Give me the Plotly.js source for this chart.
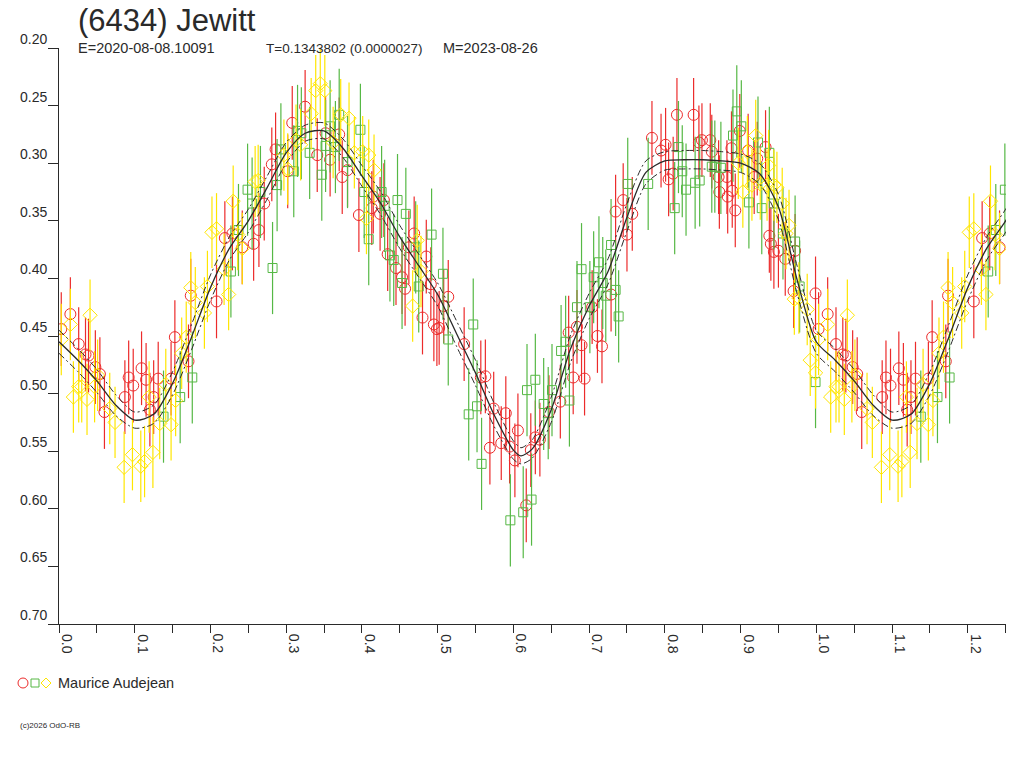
<!DOCTYPE html>
<html>
<head>
<meta charset="utf-8">
<script src="https://cdn.plot.ly/plotly-3.0.1.min.js"></script>
<style>
  html, body { margin: 0; padding: 0; background: #fff; }
  #chart { width: 1024px; height: 768px; }
</style>
</head>
<body>
<div id="chart"></div>
<script>
// Lightcurve of (6434) Jewitt, phase-folded, one observer split into three sessions

const titleText = '(6434) Jewitt';
const epochText = 'E=2020-08-08.10091';
const periodText = 'T=0.1343802 (0.0000027)';
const modelText = 'M=2023-08-26';
const observerName = 'Maurice Audejean';
const copyrightText = '(c)2026 OdO-RB';

const xTickVals = [0.0, 0.1, 0.2, 0.3, 0.4, 0.5, 0.6, 0.7, 0.8, 0.9, 1.0, 1.1, 1.2];
const xTickLabels = ['0.0', '0.1', '0.2', '0.3', '0.4', '0.5', '0.6', '0.7', '0.8', '0.9', '1.0', '1.1', '1.2'];
const yTickVals = [0.20, 0.25, 0.30, 0.35, 0.40, 0.45, 0.50, 0.55, 0.60, 0.65, 0.70];
const yTickLabels = ['0.20', '0.25', '0.30', '0.35', '0.40', '0.45', '0.50', '0.55', '0.60', '0.65', '0.70'];

// session 1 (red circles)
const redPhase = [
    0.003, 0.015, 0.026, 0.035, 0.039, 0.048, 0.054, 0.060, 0.087, 0.092,
    0.098, 0.109, 0.115, 0.120, 0.125, 0.131, 0.148, 0.153, 0.171, 0.174,
    0.208, 0.219, 0.229, 0.242, 0.257, 0.264, 0.271, 0.281, 0.286, 0.302,
    0.308, 0.325, 0.341, 0.352, 0.358, 0.370, 0.374, 0.381, 0.396, 0.413,
    0.415, 0.424, 0.429, 0.434, 0.445, 0.453, 0.457, 0.462, 0.469, 0.480,
    0.485, 0.491, 0.495, 0.499, 0.502, 0.508, 0.514, 0.535, 0.557, 0.563,
    0.569, 0.574, 0.584, 0.590, 0.595, 0.602, 0.606, 0.617, 0.623, 0.629,
    0.635, 0.647, 0.662, 0.673, 0.679, 0.684, 0.690, 0.694, 0.704, 0.711,
    0.717, 0.729, 0.735, 0.745, 0.750, 0.757, 0.783, 0.795, 0.801, 0.805,
    0.811, 0.816, 0.838, 0.845, 0.849, 0.860, 0.862, 0.871, 0.872, 0.882,
    0.883, 0.888, 0.889, 0.893, 0.899, 0.910, 0.918, 0.922, 0.933, 0.938,
    0.940, 0.944, 0.950, 0.959, 0.970, 0.972, 0.999
];
const redMag = [
    0.444, 0.431, 0.457, 0.466, 0.467, 0.477, 0.483, 0.516, 0.503, 0.486,
    0.493, 0.478, 0.488, 0.514, 0.503, 0.487, 0.487, 0.451, 0.472, 0.415,
    0.420, 0.365, 0.361, 0.373, 0.370, 0.358, 0.335, 0.301, 0.288, 0.307,
    0.265, 0.251, 0.293, 0.274, 0.297, 0.275, 0.312, 0.306, 0.345, 0.339,
    0.329, 0.344, 0.332, 0.379, 0.391, 0.399, 0.409, 0.373, 0.361, 0.434,
    0.381, 0.405, 0.440, 0.444, 0.443, 0.424, 0.416, 0.457, 0.486, 0.485,
    0.547, 0.513, 0.543, 0.517, 0.546, 0.558, 0.532, 0.597, 0.549, 0.538,
    0.540, 0.516, 0.507, 0.447, 0.486, 0.442, 0.458, 0.487, 0.425, 0.450,
    0.459, 0.414, 0.342, 0.332, 0.362, 0.344, 0.278, 0.289, 0.284, 0.314,
    0.309, 0.258, 0.258, 0.282, 0.280, 0.280, 0.290, 0.312, 0.325, 0.312,
    0.329, 0.287, 0.324, 0.341, 0.272, 0.289, 0.312, 0.296, 0.286, 0.363,
    0.370, 0.377, 0.376, 0.383, 0.411, 0.376, 0.413
];

// session 2 (green squares)
const greenPhase = [
    0.138, 0.160, 0.176, 0.227, 0.237, 0.249, 0.255, 0.266, 0.282, 0.288,
    0.293, 0.310, 0.315, 0.320, 0.331, 0.347, 0.352, 0.358, 0.365, 0.370,
    0.381, 0.398, 0.403, 0.409, 0.426, 0.430, 0.437, 0.442, 0.447, 0.453,
    0.458, 0.471, 0.475, 0.492, 0.507, 0.514, 0.541, 0.547, 0.552, 0.558,
    0.596, 0.613, 0.618, 0.624, 0.629, 0.640, 0.646, 0.651, 0.663, 0.669,
    0.674, 0.684, 0.690, 0.701, 0.706, 0.713, 0.718, 0.722, 0.729, 0.735,
    0.739, 0.751, 0.778, 0.813, 0.818, 0.823, 0.828, 0.840, 0.846, 0.862,
    0.866, 0.874, 0.890, 0.895, 0.901, 0.911, 0.923, 0.928, 0.938, 0.944,
    0.956, 0.972, 0.978, 0.999
];
const greenMag = [
    0.520, 0.503, 0.486, 0.394, 0.358, 0.323, 0.335, 0.325, 0.391, 0.319,
    0.288, 0.307, 0.272, 0.274, 0.291, 0.310, 0.285, 0.268, 0.286, 0.258,
    0.299, 0.271, 0.325, 0.366, 0.325, 0.337, 0.380, 0.384, 0.332, 0.404,
    0.344, 0.373, 0.407, 0.362, 0.396, 0.453, 0.518, 0.440, 0.511, 0.561,
    0.610, 0.603, 0.497, 0.592, 0.488, 0.509, 0.517, 0.497, 0.463, 0.455,
    0.506, 0.425, 0.392, 0.425, 0.399, 0.386, 0.404, 0.415, 0.371, 0.410,
    0.433, 0.318, 0.318, 0.339, 0.286, 0.307, 0.323, 0.317, 0.315, 0.303,
    0.303, 0.304, 0.276, 0.255, 0.268, 0.334, 0.282, 0.339, 0.291, 0.335,
    0.361, 0.368, 0.407, 0.490
];

// session 3 (yellow diamonds)
const yellowPhase = [
    0.003, 0.015, 0.019, 0.026, 0.030, 0.037, 0.041, 0.047, 0.051, 0.067,
    0.074, 0.086, 0.097, 0.108, 0.113, 0.119, 0.124, 0.133, 0.141, 0.148,
    0.154, 0.162, 0.168, 0.174, 0.180, 0.192, 0.196, 0.202, 0.208, 0.218,
    0.224, 0.230, 0.236, 0.242, 0.259, 0.263, 0.297, 0.302, 0.313, 0.319,
    0.333, 0.339, 0.345, 0.351, 0.362, 0.372, 0.383, 0.390, 0.401, 0.406,
    0.409, 0.416, 0.467, 0.473, 0.478, 0.897, 0.903, 0.909, 0.915, 0.920,
    0.926, 0.935, 0.937, 0.944, 0.948, 0.955, 0.960, 0.964, 0.971, 0.977,
    0.988, 0.992, 0.999
];
const yellowMag = [
    0.453, 0.440, 0.503, 0.494, 0.494, 0.505, 0.432, 0.494, 0.484, 0.513,
    0.525, 0.564, 0.553, 0.563, 0.559, 0.503, 0.551, 0.526, 0.492, 0.527,
    0.506, 0.465, 0.451, 0.408, 0.421, 0.430, 0.407, 0.360, 0.357, 0.392,
    0.414, 0.333, 0.362, 0.374, 0.316, 0.315, 0.293, 0.305, 0.280, 0.284,
    0.257, 0.237, 0.231, 0.237, 0.282, 0.258, 0.261, 0.291, 0.290, 0.348,
    0.293, 0.306, 0.424, 0.367, 0.394, 0.300, 0.325, 0.290, 0.319, 0.276,
    0.318, 0.319, 0.302, 0.319, 0.321, 0.335, 0.361, 0.354, 0.418, 0.417,
    0.427, 0.471, 0.482
];

const redErr = 0.032;
const greenErr = 0.040;
const yellowErr = 0.031;

// fitted curve and its uncertainty band
const fitPhase = [
    0.000, 0.025, 0.050, 0.075, 0.100, 0.125, 0.150, 0.175, 0.200, 0.225,
    0.250, 0.275, 0.300, 0.325, 0.350, 0.375, 0.400, 0.425, 0.450, 0.475,
    0.500, 0.525, 0.550, 0.575, 0.600, 0.610, 0.625, 0.650, 0.675, 0.700,
    0.725, 0.750, 0.775, 0.800, 0.825, 0.850, 0.875, 0.900, 0.925, 0.950,
    0.975, 1.000
];
const fitMag = [
    0.455, 0.471, 0.489, 0.510, 0.523, 0.518, 0.491, 0.451, 0.408, 0.374,
    0.350, 0.321, 0.291, 0.274, 0.272, 0.287, 0.311, 0.335, 0.364, 0.389,
    0.414, 0.448, 0.482, 0.519, 0.549, 0.554, 0.548, 0.514, 0.462, 0.424,
    0.394, 0.347, 0.308, 0.298, 0.297, 0.297, 0.298, 0.300, 0.309, 0.338,
    0.402, 0.455
];
const fitUpper = [
    0.445, 0.461, 0.479, 0.501, 0.516, 0.510, 0.481, 0.440, 0.397, 0.364,
    0.340, 0.311, 0.282, 0.267, 0.265, 0.279, 0.302, 0.325, 0.354, 0.379,
    0.404, 0.437, 0.471, 0.509, 0.541, 0.547, 0.540, 0.503, 0.450, 0.413,
    0.383, 0.335, 0.298, 0.290, 0.289, 0.289, 0.290, 0.292, 0.300, 0.327,
    0.390, 0.445
];
const fitLower = [
    0.465, 0.481, 0.499, 0.519, 0.530, 0.526, 0.501, 0.462, 0.419, 0.384,
    0.360, 0.331, 0.300, 0.281, 0.279, 0.295, 0.320, 0.345, 0.374, 0.399,
    0.424, 0.459, 0.493, 0.529, 0.557, 0.561, 0.556, 0.525, 0.474, 0.435,
    0.405, 0.359, 0.318, 0.306, 0.305, 0.305, 0.306, 0.308, 0.318, 0.349,
    0.414, 0.465
];

const X_MAX = 1.2505;
const INK = '#2a2a2a';
const FONT = 'Liberation Sans, Arial, sans-serif';

// the plot shows phase 0..1.25, so the first quarter is drawn a second time after 1.0
function wrapPhase(phase, mag, limit) {
    const x = phase.slice();
    const y = mag.slice();
    phase.forEach((p, i) => {
        if (p > 0 && p <= limit) {
            x.push(p + 1);
            y.push(mag[i]);
        }
    });
    return { x, y };
}

function pointTrace(phase, mag, err, symbol, size, color) {
    const w = wrapPhase(phase, mag, X_MAX - 1);
    return {
        x: w.x,
        y: w.y,
        type: 'scatter',
        mode: 'markers',
        marker: { symbol: symbol, size: size, color: color, line: { color: color, width: 1 } },
        error_y: { type: 'constant', value: err, color: color, thickness: 1.2, width: 0 },
        hoverinfo: 'skip',
        showlegend: false
    };
}

function curveTrace(mag, dash, width) {
    const w = wrapPhase(fitPhase, mag, 0.28);
    return {
        x: w.x,
        y: w.y,
        type: 'scatter',
        mode: 'lines',
        line: { color: INK, width: width, dash: dash, shape: 'spline', smoothing: 0.75 },
        hoverinfo: 'skip',
        showlegend: false
    };
}

const traces = [
    pointTrace(redPhase, redMag, redErr, 'circle-open', 11, '#ec2b2b'),
    pointTrace(greenPhase, greenMag, greenErr, 'square-open', 9, '#56b845'),
    pointTrace(yellowPhase, yellowMag, yellowErr, 'diamond-open', 11, '#ffe600'),
    curveTrace(fitUpper, '7px,3px,2px,3px', 1),
    curveTrace(fitLower, '7px,3px,2px,3px', 1),
    curveTrace(fitMag, 'solid', 1.3)
];

const annotations = [];

yTickVals.forEach((v, i) => {
    annotations.push({
        xref: 'paper', x: 0, xshift: -10, xanchor: 'right',
        yref: 'y', y: v, yanchor: 'bottom', yshift: -1,
        text: yTickLabels[i], showarrow: false,
        font: { family: FONT, size: 14, color: INK }
    });
});

xTickVals.forEach((v, i) => {
    annotations.push({
        xref: 'x', x: v, xanchor: 'left', xshift: -2,
        yref: 'paper', y: 0, yanchor: 'top', yshift: -8,
        text: xTickLabels[i], textangle: 90, showarrow: false,
        font: { family: FONT, size: 14, color: INK }
    });
});

annotations.push(
    {
        xref: 'paper', x: 0, xshift: 17, xanchor: 'left',
        yref: 'paper', y: 1, yanchor: 'bottom', yshift: 8,
        text: titleText, showarrow: false,
        font: { family: FONT, size: 31, color: INK }
    },
    {
        xref: 'paper', x: 0, xshift: 17, xanchor: 'left',
        yref: 'paper', y: 1, yanchor: 'bottom', yshift: -10,
        text: epochText, showarrow: false,
        font: { family: FONT, size: 14.5, color: INK }
    },
    {
        xref: 'paper', x: 0, xshift: 205, xanchor: 'left',
        yref: 'paper', y: 1, yanchor: 'bottom', yshift: -10,
        text: periodText, showarrow: false,
        font: { family: FONT, size: 13.5, color: INK }
    },
    {
        xref: 'paper', x: 0, xshift: 382, xanchor: 'left',
        yref: 'paper', y: 1, yanchor: 'bottom', yshift: -10,
        text: modelText, showarrow: false,
        font: { family: FONT, size: 14.5, color: INK }
    },
    {
        xref: 'paper', x: 0, xshift: -3, xanchor: 'left',
        yref: 'paper', y: 0, yanchor: 'middle', yshift: -59,
        text: observerName, showarrow: false,
        font: { family: FONT, size: 14.5, color: INK }
    },
    {
        xref: 'paper', x: 0, xshift: -41, xanchor: 'left',
        yref: 'paper', y: 0, yanchor: 'middle', yshift: -101,
        text: copyrightText, showarrow: false,
        font: { family: FONT, size: 8, color: INK }
    }
);

// legend symbols under the plot, positioned in pixels from the plot's lower-left corner
const legendShape = (extra) => Object.assign({
    xref: 'paper', xsizemode: 'pixel', xanchor: 0,
    yref: 'paper', ysizemode: 'pixel', yanchor: 0,
    fillcolor: 'rgba(0,0,0,0)'
}, extra);

const shapes = [
    legendShape({ type: 'circle', x0: -41, x1: -31, y0: -64, y1: -54, line: { color: '#ec2b2b', width: 1 } }),
    legendShape({ type: 'rect', x0: -28, x1: -20, y0: -63, y1: -55, line: { color: '#56b845', width: 1 } }),
    legendShape({ type: 'path', path: 'M -18,-59 L -13,-54 L -8,-59 L -13,-64 Z', line: { color: '#ffe600', width: 1 } })
];

const layout = {
    width: 1024,
    height: 768,
    margin: { l: 59, r: 18, t: 48, b: 144 },
    paper_bgcolor: 'white',
    plot_bgcolor: 'white',
    showlegend: false,
    xaxis: {
        range: [0, X_MAX],
        showgrid: false,
        zeroline: false,
        showline: true,
        linecolor: INK,
        linewidth: 1,
        ticks: 'outside',
        ticklen: 8,
        tickcolor: INK,
        tick0: 0,
        dtick: 0.05,
        showticklabels: false
    },
    yaxis: {
        range: [0.70, 0.20],
        showgrid: false,
        zeroline: false,
        showline: true,
        linecolor: INK,
        linewidth: 1,
        ticks: 'outside',
        ticklen: 10,
        tickcolor: INK,
        tick0: 0.2,
        dtick: 0.05,
        showticklabels: false
    },
    annotations: annotations,
    shapes: shapes
};

Plotly.newPlot('chart', traces, layout, { displayModeBar: false, staticPlot: true });
</script>
</body>
</html>
